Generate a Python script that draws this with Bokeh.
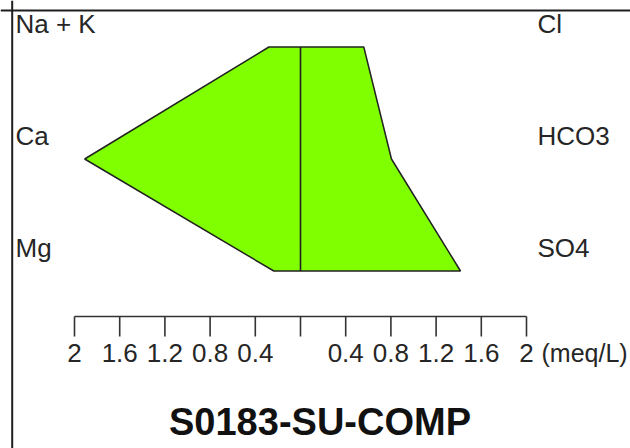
from bokeh.plotting import figure
from bokeh.models import Range1d, Span, ColumnDataSource
from bokeh.core.properties import value
from bokeh.embed import file_html
from bokeh.resources import INLINE

# Stiff diagram for sample S0183-SU-COMP (meq/L)
sample_name = "S0183-SU-COMP"
cation_names = ["Na + K", "Ca", "Mg"]
cation_values = [0.28, 1.91, 0.236]
anion_names = ["Cl", "HCO3", "SO4"]
anion_values = [0.56, 0.805, 1.416]
tick_values = [-2, -1.6, -1.2, -0.8, -0.4, 0, 0.4, 0.8, 1.2, 1.6, 2]
tick_labels = ["2", "1.6", "1.2", "0.8", "0.4", "", "0.4", "0.8", "1.2", "1.6", "2"]
unit_label = "(meq/L)"

W, H = 630, 448
PX_PER_MEQ = 113.0
X0 = 300.0          # screen x of the zero line
ROW0 = 46.5         # screen y of the first ion row
ROW_STEP = 112.0    # screen distance between ion rows

FONT = "Liberation Sans"
TXT = "#262626"

p = figure(width=W, height=H, output_backend="svg", toolbar_location=None,
           min_border=0, border_fill_color="white", background_fill_color="white",
           outline_line_color=None,
           x_range=Range1d(-X0 / PX_PER_MEQ, (W - X0) / PX_PER_MEQ),
           y_range=Range1d((H - ROW0) / ROW_STEP, -ROW0 / ROW_STEP))
p.axis.visible = False
p.grid.visible = False

rows = list(range(len(cation_names)))

# frame lines (left and top)
p.add_layout(Span(location=(11.7 - X0) / PX_PER_MEQ, dimension="height",
                  line_color="#1e1e1e", line_width=2))
p.add_layout(Span(location=(10 - ROW0) / ROW_STEP, dimension="width",
                  line_color="#1e1e1e", line_width=2))

# Stiff polygon: cations to the left, anions to the right
xs = [-v for v in cation_values] + list(reversed(anion_values))
ys = rows + list(reversed(rows))
p.patch(xs, ys, fill_color="#7FFF00", line_color="#222222", line_width=1.5)
p.line([0, 0], [rows[0], rows[-1]], line_color="#222222", line_width=1.6)

# ion labels, set just above each row
p.text(x=[(15 - X0) / PX_PER_MEQ] * 3, y=rows, text=cation_names,
       text_font=value(FONT), text_font_size="26px", text_color=TXT,
       text_align="left", text_baseline="middle", y_offset=-23.5)
p.text(x=[(537 - X0) / PX_PER_MEQ] * 3, y=rows, text=anion_names,
       text_font=value(FONT), text_font_size="26px", text_color=TXT,
       text_align="left", text_baseline="middle", y_offset=-23.5)

# concentration scale bar
axis_row = (316 - ROW0) / ROW_STEP
tick_len_rows = 20 / ROW_STEP
p.line([tick_values[0], tick_values[-1]], [axis_row, axis_row],
       line_color="#333333", line_width=1.6)
p.segment(x0=tick_values, y0=[axis_row] * len(tick_values),
          x1=tick_values, y1=[axis_row + tick_len_rows] * len(tick_values),
          line_color="#333333", line_width=1.6)
p.text(x=tick_values, y=[axis_row] * len(tick_values), text=tick_labels,
       text_font=value(FONT), text_font_size="26px", text_color=TXT,
       text_align="center", text_baseline="middle", y_offset=36.5)
p.text(x=[tick_values[-1]], y=[axis_row], text=[unit_label],
       text_font=value(FONT), text_font_size="25px", text_color=TXT,
       text_align="left", text_baseline="middle", x_offset=15, y_offset=36.5)

# sample name
title_row = (421 - ROW0) / ROW_STEP
p.text(x=[(319.5 - X0) / PX_PER_MEQ], y=[title_row], text=[sample_name],
       text_font=value(FONT), text_font_size="38px", text_font_style="bold",
       text_color="#111111", text_align="center", text_baseline="middle")

open("out.html", "w").write(file_html(p, INLINE))
